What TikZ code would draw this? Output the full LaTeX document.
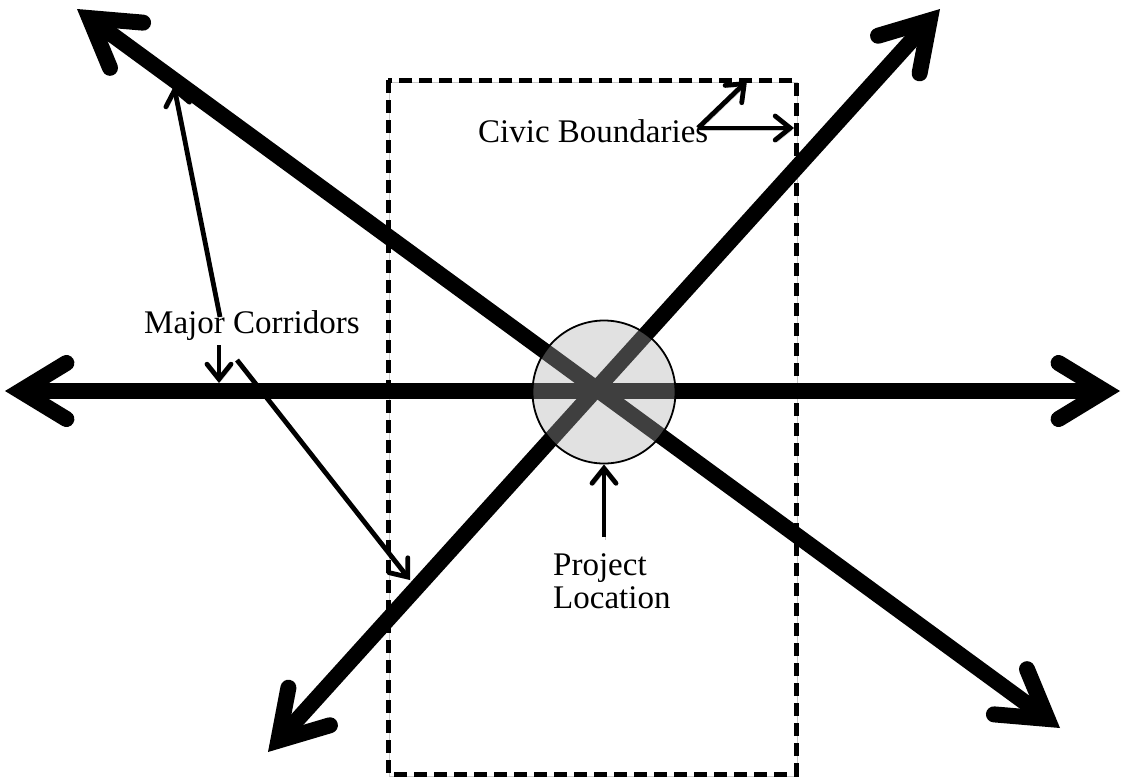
\documentclass[tikz,border=0pt]{standalone}
\usepackage{fontspec}
\setmainfont{Liberation Serif}
\usetikzlibrary{arrows.meta}

\begin{document}
\begin{tikzpicture}[
  x=1pt, y=-1pt,
  shade/.style    = {preaction={draw=black!22, transform canvas={xshift=1.5pt, yshift=-2.5pt}}},
  corridor/.style = {shade, line width=16pt, <->,
                     >={Straight Barb[length=46pt, width=56pt, line cap=round, line join=miter]}},
  ptr/.style      = {shade, line width=4.8pt,
                     -{Straight Barb[length=15pt, width=24pt, line cap=round, line join=miter]}},
  bound/.style    = {shade, line width=5pt, dash pattern=on 13pt off 7pt},
  lbl/.style      = {font=\fontsize{33}{33}\selectfont, inner sep=0pt},
  site/.style     = {circle, draw, line width=1.8pt, minimum size=143pt,
                     fill=black!32, fill opacity=0.37},
]
\useasboundingbox (0,0) rectangle (1123,780);

% ---- corridor end points ----
\coordinate (hW) at (5,391);
\coordinate (hE) at (1120,391);
\coordinate (nw) at (77,9);
\coordinate (se) at (1060,728);
\coordinate (sw) at (268,752);
\coordinate (ne) at (940,9);

% ---- civic boundaries ----
\draw[bound] (388,80) rectangle (796,774);

% ---- major corridors ----
\draw[corridor] (hW) -- (hE);
\draw[corridor] (nw) -- (se);
\draw[corridor] (sw) -- (ne);

% ---- project location ----
\node[site] (site) at (604,392) {};

% ---- labels ----
\node[lbl, anchor=base west] (civic) at (478,142) {Civic Boundaries};
\node[lbl, anchor=base west] (corr)  at (144,333) {Major Corridors};
\node[lbl, anchor=north west, align=left] (proj) at (553,553) {Project\\Location};

% ---- pointer targets ----
\coordinate (cbTop)   at (747,81);
\coordinate (cbRight) at (794,128);
\coordinate (civTail) at (698,128);
\coordinate (onNW)    at (174,86);
\coordinate (onH)     at (219,383);
\coordinate (onSW)    at (410,580);
\coordinate (corTailA) at (220,317);
\coordinate (corTailB) at (219,345);
\coordinate (corTailC) at (237,360);
\coordinate (projTail) at (604,537);

% ---- pointers ----
\draw[ptr] (civTail) -- (cbTop);
\draw[ptr] (civTail) -- (cbRight);
\draw[ptr] (corTailA) -- (onNW);
\draw[ptr] (corTailB) -- (onH);
\draw[ptr] (corTailC) -- (onSW);
\draw[ptr] (projTail) -- (site.south);

\end{tikzpicture}
\end{document}
